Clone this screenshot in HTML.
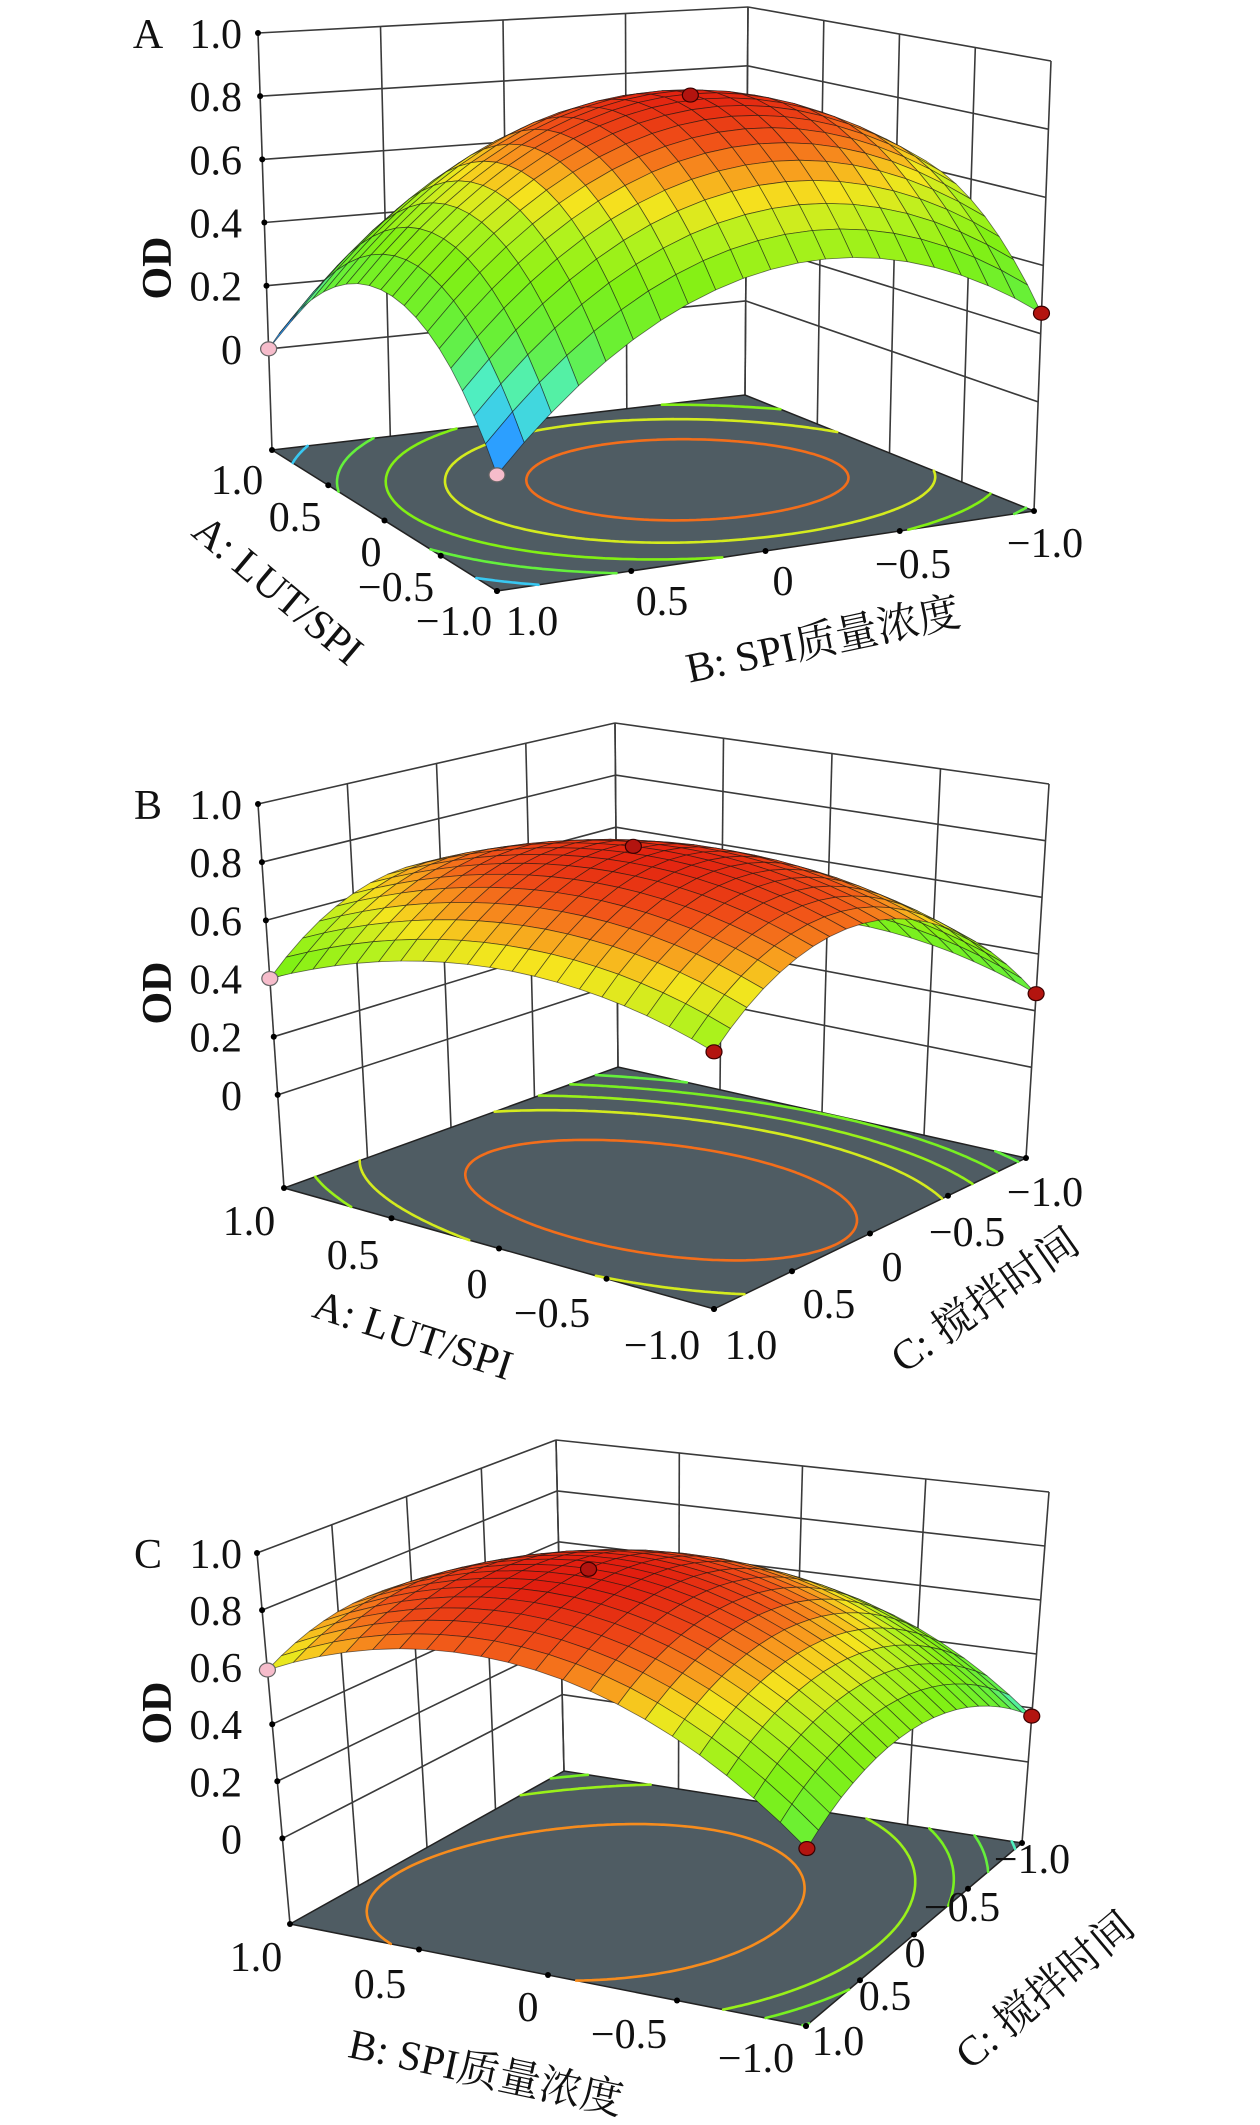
<!DOCTYPE html>
<html><head><meta charset="utf-8"><style>
html,body{margin:0;padding:0;background:#fff;}
svg{display:block;}
text{font-family:"Liberation Serif","Noto Serif CJK SC","Noto Sans CJK SC",serif;fill:#111;}
</style></head><body>
<svg id="chart" width="1260" height="2125" viewBox="0 0 1260 2125" xmlns="http://www.w3.org/2000/svg"></svg>
<script>
// ---------- data ----------
// quadratic model coefficients: [intercept, first, second, first*second, first^2, second^2]
const coefA = [0.85, 0.01, -0.14, -0.01, -0.36, -0.35];
const coefB = [0.85, -0.04, 0.11, -0.01, -0.16, -0.35];
const coefC = [0.86, 0.12, 0.09, 0.03, -0.30, -0.21];
// design points shown as markers
const ptsA_u = [1, -1, -1, 0];   const ptsA_v = [1, 1, -1, -0.2]; const ptsA_z = [0.0, 0.0, 0.26, 0.86]; const ptsA_kind = ['pink','pink','red','red'];
const ptsB_u = [1, -1, -1, 0];   const ptsB_v = [1, 1, -1, 0.15]; const ptsB_z = [0.40, 0.50, 0.26, 0.87]; const ptsB_kind = ['pink','red','red','red'];
const ptsC_u = [1, -1, -1, 0.2]; const ptsC_v = [1, 1, -1, 0.2];  const ptsC_z = [0.59, 0.29, 0.17, 0.88]; const ptsC_kind = ['pink','red','red','red'];
// contour levels on the floor
const levelsA = [0.12, 0.3, 0.45, 0.6, 0.75];
const levelsB = [0.3, 0.4, 0.5, 0.6, 0.75];
const levelsC = [0.2, 0.3, 0.4, 0.5, 0.72];
// tick values / labels
const zTicks = [0, 0.2, 0.4, 0.6, 0.8, 1.0];
const zTickLabels = ['0', '0.2', '0.4', '0.6', '0.8', '1.0'];
const axTickLabels = ['1.0', '0.5', '0', '\u22120.5', '\u22121.0'];
const axTickLabels2 = ['1.0', '0.5', '0', '\u22120.5', '\u22121.0'];

// ---------- layout (pixel geometry of each box) ----------
const panels = [
  {id:'a', letter:'A', coef:coefA, lv:levelsA, pu:ptsA_u, pv:ptsA_v, pz:ptsA_z, pk:ptsA_kind, zmin:-0.32,
   L:[272,450], F:[497,591], R:[1034,511], B:[745,395],
   LT:[258,33], RT:[1051,61], BT:[748,7],
   uLab:[[237,479],[295,516],[371,551],[396,586],[454,620]],
   vLab:[[532,620],[662,600],[783,580],[913,563],[1045,542]],
   uTitle:{t:'A: LUT/SPI', x:278, y:590, r:40}, vTitle:{t:'B: SPI质量浓度', x:823, y:640, r:-12},
   od:[157,268]},
  {id:'b', letter:'B', coef:coefB, lv:levelsB, pu:ptsB_u, pv:ptsB_v, pz:ptsB_z, pk:ptsB_kind, zmin:-0.32,
   L:[284,1188], F:[714,1309], R:[1026,1158], B:[618,1067],
   LT:[258,804], RT:[1049,784], BT:[615,723],
   uLab:[[249,1220],[353,1254],[477,1283],[552,1312],[662,1344]],
   vLab:[[751,1344],[829,1303],[892,1266],[967,1231],[1045,1191]],
   uTitle:{t:'A: LUT/SPI', x:413, y:1335, r:18}, vTitle:{t:'C: 搅拌时间', x:985, y:1300, r:-35},
   od:[157,993]},
  {id:'c', letter:'C', coef:coefC, lv:levelsC, pu:ptsC_u, pv:ptsC_v, pz:ptsC_z, pk:ptsC_kind, zmin:-0.30,
   L:[290,1924], F:[806,2026], R:[1022,1843], B:[564,1771],
   LT:[257,1553], RT:[1049,1492], BT:[556,1440],
   uLab:[[256,1956],[380,1983],[528,2006],[629,2033],[756,2057]],
   vLab:[[838,2040],[885,1995],[915,1952],[962,1906],[1032,1858]],
   uTitle:{t:'B: SPI质量浓度', x:486, y:2072, r:12}, vTitle:{t:'C: 搅拌时间', x:1045, y:1990, r:-40},
   od:[157,1713]}
];

const NS = 'http://www.w3.org/2000/svg';
const svg = document.getElementById('chart');
const stops = [[0,26,70,255],[0.1,50,190,255],[0.2,80,240,190],[0.3,100,240,60],[0.45,130,240,20],[0.56,180,242,30],[0.64,245,228,30],[0.71,248,150,30],[0.78,240,80,24],[0.87,225,30,15]];
function cmap(z){
  if(z<=stops[0][0]) return `rgb(${stops[0][1]},${stops[0][2]},${stops[0][3]})`;
  for(let i=1;i<stops.length;i++){ if(z<=stops[i][0]){const a=stops[i-1],b=stops[i],t=(z-a[0])/(b[0]-a[0]);
    return `rgb(${Math.round(a[1]+t*(b[1]-a[1]))},${Math.round(a[2]+t*(b[2]-a[2]))},${Math.round(a[3]+t*(b[3]-a[3]))})`;}}
  const l=stops[stops.length-1]; return `rgb(${l[1]},${l[2]},${l[3]})`;
}
function mk(tag, attrs, parent){const e=document.createElementNS(NS,tag); for(const k in attrs) e.setAttribute(k,attrs[k]); (parent||svg).appendChild(e); return e;}
function model(c,u,v){return c[0]+c[1]*u+c[2]*v+c[3]*u*v+c[4]*u*u+c[5]*v*v;}

panels.forEach(P=>{
  const g = mk('g',{});
  
  
  const span = 1 - P.zmin;
  const VL=[(P.LT[0]-P.L[0])/span,(P.LT[1]-P.L[1])/span];
  const VR=[(P.RT[0]-P.R[0])/span,(P.RT[1]-P.R[1])/span];
  const VB=[(P.BT[0]-P.B[0])/span,(P.BT[1]-P.B[1])/span];
  const VF=[VL[0]+VR[0]-VB[0], VL[1]+VR[1]-VB[1]];
  function bil(a,b,Lp,Fp,Rp,Bp,i){return Lp[i]*(1-a)*(1-b)+Fp[i]*a*(1-b)+Rp[i]*a*b+Bp[i]*(1-a)*b;}
  function proj(u,v,z){const a=(1-u)/2, b=(1-v)/2;
    const fx=bil(a,b,P.L,P.F,P.R,P.B,0), fy=bil(a,b,P.L,P.F,P.R,P.B,1);
    const vx=bil(a,b,VL,VF,VR,VB,0), vy=bil(a,b,VL,VF,VR,VB,1);
    return [fx+(z-P.zmin)*vx, fy+(z-P.zmin)*vy];}
  const line=(p,q,name,w)=>{const l=mk('line',{x1:p[0].toFixed(1),y1:p[1].toFixed(1),x2:q[0].toFixed(1),y2:q[1].toFixed(1),stroke:'#3a3a3a','stroke-width':w||1.6},g);
      return l;};
  const gridVals=[1,0.5,0,-0.5,-1];
  gridVals.forEach(v=>line(proj(1,v,P.zmin),proj(1,v,1),'left-wall-gridline'));
  zTicks.forEach(z=>line(proj(1,1,z),proj(1,-1,z),'left-wall-gridline'));
  gridVals.forEach(u=>line(proj(u,-1,P.zmin),proj(u,-1,1),'right-wall-gridline'));
  zTicks.forEach(z=>line(proj(1,-1,z),proj(-1,-1,z),'right-wall-gridline'));
  const fl=[proj(1,1,P.zmin),proj(-1,1,P.zmin),proj(-1,-1,P.zmin),proj(1,-1,P.zmin)];
  const floor=mk('polygon',{points:fl.map(p=>p[0].toFixed(1)+','+p[1].toFixed(1)).join(' '),fill:'#4f5c63',stroke:'#222','stroke-width':1.5},g);
  
  
  const N=90;
  P.lv.forEach(lev=>{
    let d='';
    const val=(i,j)=>model(P.coef,-1+2*i/N,-1+2*j/N)-lev;
    for(let i=0;i<N;i++)for(let j=0;j<N;j++){
      const c=[[i,j],[i+1,j],[i+1,j+1],[i,j+1]], vs=c.map(q=>val(q[0],q[1])), pts=[];
      for(let k=0;k<4;k++){const a=vs[k],b=vs[(k+1)%4]; if((a<0)!==(b<0)){const t=a/(a-b);
        const ii=c[k][0]+t*(c[(k+1)%4][0]-c[k][0]), jj=c[k][1]+t*(c[(k+1)%4][1]-c[k][1]); pts.push(proj(-1+2*ii/N,-1+2*jj/N,P.zmin));}}
      if(pts.length>=2){d+=`M${pts[0][0].toFixed(1)},${pts[0][1].toFixed(1)}L${pts[1][0].toFixed(1)},${pts[1][1].toFixed(1)}`;
        if(pts.length===4) d+=`M${pts[2][0].toFixed(1)},${pts[2][1].toFixed(1)}L${pts[3][0].toFixed(1)},${pts[3][1].toFixed(1)}`;}
    }
    const cp=mk('path',{d:d,stroke:cmap(lev),'stroke-width':2.6,fill:'none','stroke-linecap':'round'},g);
    
    
  });
  gridVals.forEach(u=>{const p=proj(u,1,P.zmin); const c=mk('circle',{cx:p[0],cy:p[1],r:3,fill:'#000'},g);
     });
  gridVals.forEach(v=>{const p=proj(-1,v,P.zmin); const c=mk('circle',{cx:p[0],cy:p[1],r:3,fill:'#000'},g);
     });
  zTicks.forEach((z,k)=>{const p=proj(1,1,z);
    const c=mk('circle',{cx:p[0],cy:p[1],r:3,fill:'#000'},g);  
    const t=mk('text',{x:242,y:(p[1]+15).toFixed(1),'text-anchor':'end','font-size':42},g); t.textContent=zTickLabels[k];
     });
  const M=20, cells=[];
  for(let i=0;i<M;i++)for(let j=0;j<M;j++){
    const u0=1-2*i/M,u1=1-2*(i+1)/M,v0=1-2*j/M,v1=1-2*(j+1)/M;
    const z00=model(P.coef,u0,v0),z10=model(P.coef,u1,v0),z11=model(P.coef,u1,v1),z01=model(P.coef,u0,v1);
    cells.push({depth:(i/M)-(j/M), pts:[proj(u0,v0,z00),proj(u1,v0,z10),proj(u1,v1,z11),proj(u0,v1,z01)], z:(z00+z10+z11+z01)/4});
  }
  cells.sort((a,b)=>a.depth-b.depth);
  const sg=mk('g',{},g);
  
  
  cells.forEach(c=>{const q=mk('polygon',{points:c.pts.map(p=>p[0].toFixed(1)+','+p[1].toFixed(1)).join(' '),fill:cmap(c.z),stroke:'rgba(20,20,20,0.6)','stroke-width':0.8,'stroke-linejoin':'round'},sg);
     });
  P.pu.forEach((u,k)=>{const p=proj(u,P.pv[k],P.pz[k]);
    const e=mk('ellipse',{cx:p[0],cy:p[1],rx:8,ry:7,fill:P.pk[k]==='pink'?'#f6bccb':'#b3140f',stroke:P.pk[k]==='pink'?'#666':'#3a0000','stroke-width':1.2},g);
     });
  P.uLab.forEach((p,k)=>{const t=mk('text',{x:p[0],y:p[1]+15,'text-anchor':'middle','font-size':42},g); t.textContent=axTickLabels[k];
     });
  P.vLab.forEach((p,k)=>{const t=mk('text',{x:p[0],y:p[1]+15,'text-anchor':'middle','font-size':42},g); t.textContent=axTickLabels2[k];
     });
  const ut=mk('text',{x:P.uTitle.x,y:P.uTitle.y+14,'text-anchor':'middle','font-size':42,transform:`rotate(${P.uTitle.r} ${P.uTitle.x} ${P.uTitle.y})`},g);
  ut.textContent=P.uTitle.t;  
  const vt=mk('text',{x:P.vTitle.x,y:P.vTitle.y+14,'text-anchor':'middle','font-size':42,transform:`rotate(${P.vTitle.r} ${P.vTitle.x} ${P.vTitle.y})`},g);
  vt.textContent=P.vTitle.t;  
  const od=mk('text',{x:P.od[0],y:P.od[1]+14,'text-anchor':'middle','font-size':42,'font-weight':'bold',transform:`rotate(-90 ${P.od[0]} ${P.od[1]})`},g);
  od.textContent='OD';  
  const lt=mk('text',{x:148,y:(P.LT[1]+15),'text-anchor':'middle','font-size':42},g);
  lt.textContent=P.letter;  
});
</script>
</body></html>
